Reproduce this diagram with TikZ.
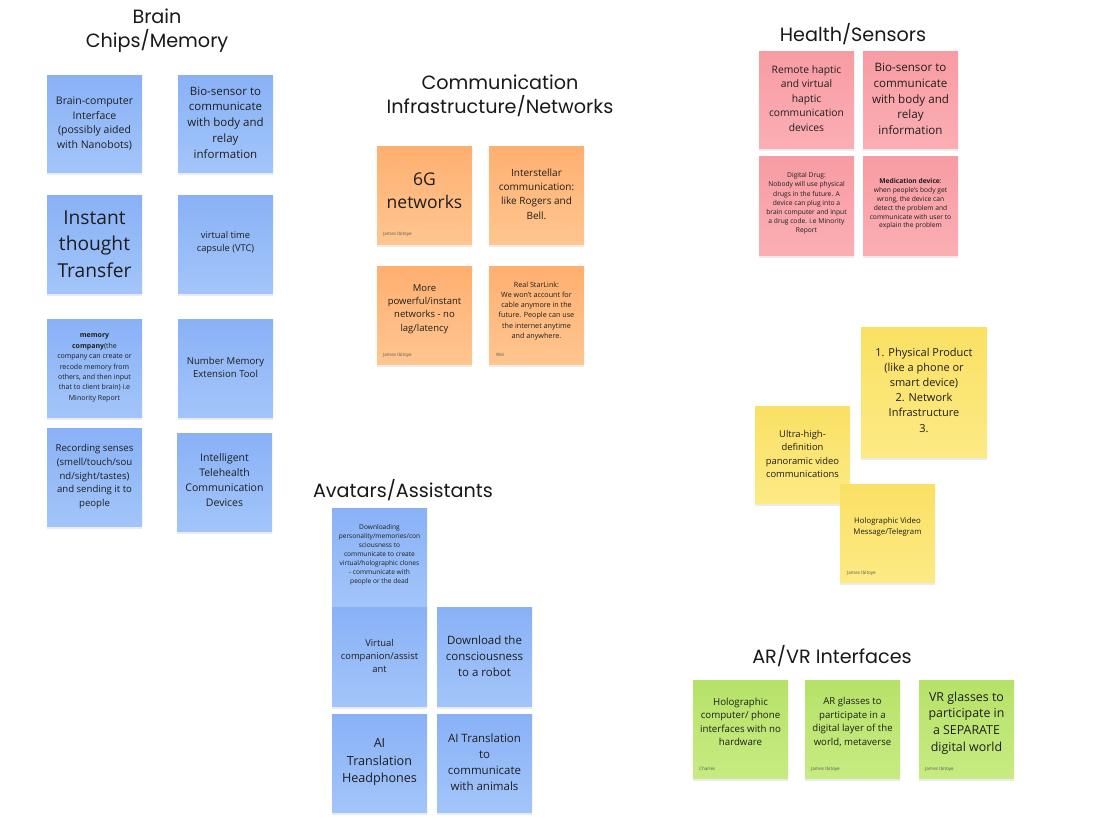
\documentclass[tikz,border=0pt]{standalone}
\usepackage{fontspec}
\setmainfont{Open Sans}
\newfontfamily\headfont{Poppins}
\usetikzlibrary{shadows}
\definecolor{bluetop}{HTML}{89B1F6}
\definecolor{bluebot}{HTML}{A2C5F9}
\definecolor{orgtop}{HTML}{FFAF70}
\definecolor{orgbot}{HTML}{FFC690}
\definecolor{pinktop}{HTML}{F89CA3}
\definecolor{pinkbot}{HTML}{FAAEB3}
\definecolor{yeltop}{HTML}{FAE064}
\definecolor{yelbot}{HTML}{FCEA84}
\definecolor{grntop}{HTML}{B6E268}
\definecolor{grnbot}{HTML}{C7EB82}
\definecolor{inktext}{HTML}{1E1E1E}
\newcommand\fsz[2]{\fontsize{#1}{#2}\selectfont}
\tikzset{
  sticky/.style={rectangle, minimum width=95pt, minimum height=98pt, inner sep=0pt,
    drop shadow={shadow xshift=0pt, shadow yshift=-2.5pt, opacity=0.08, fill=black}},
  bluenote/.style={sticky, top color=bluetop, bottom color=bluebot},
  orgnote/.style={sticky, top color=orgtop, bottom color=orgbot},
  pinknote/.style={sticky, top color=pinktop, bottom color=pinkbot},
  yelnote/.style={sticky, top color=yeltop, bottom color=yelbot},
  grnnote/.style={sticky, top color=grntop, bottom color=grnbot},
  txt/.style={align=center, inner sep=0pt, text=inktext},
  author/.style={inner sep=0pt, text=black!65, font=\fsz{4.6}{5.5}, anchor=base west},
  heading/.style={inner sep=0pt, text=black!90, font=\headfont\fsz{19.2}{24}, anchor=base}
}
\begin{document}
\begin{tikzpicture}[x=1pt,y=-1pt]
\useasboundingbox[fill=white] (0,0) rectangle (1109,817);

% ---------- Brain Chips/Memory ----------
\node[heading] (hb1) at (157,23) {Brain};
\node[heading] (hb2) at (157,47) {Chips/Memory};
\node[bluenote, minimum height=97pt] (s1) at (94.5,123.5) {};
\node[txt, font=\fsz{10.5}{14.6}] (s1t) at (s1) {Brain-computer\\Interface\\(possibly aided\\with Nanobots)};
\node[bluenote, minimum height=97pt] (s2) at (225.5,123.5) {};
\node[txt, font=\fsz{11.5}{15.8}] (s2t) at ([yshift=1pt]s2.center) {Bio-sensor to\\communicate\\with body and\\relay\\information};
\node[bluenote] (s3) at (94.5,244) {};
\node[txt, font=\fsz{19.2}{26.6}] (s3t) at (s3) {Instant\\thought\\Transfer};
\node[bluenote] (s4) at (225.5,244) {};
\node[txt, font=\fsz{9.3}{13}] (s4t) at ([yshift=1pt]s4.center) {virtual time\\capsule (VTC)};
\node[bluenote] (s5) at (94.5,368) {};
\node[txt, font=\fsz{7}{10.4}] (s5t) at (s5) {\textbf{memory}\\\textbf{company}(the\\company can create or\\recode memory from\\others, and then input\\that to client brain) i.e\\Minority Report};
\node[bluenote] (s6) at (225.5,368) {};
\node[txt, font=\fsz{9.6}{12.8}] (s6t) at ([yshift=1pt]s6.center) {Number Memory\\Extension Tool};
\node[bluenote] (s7) at (94.5,477.5) {};
\node[txt, font=\fsz{9.6}{13.8}] (s7t) at ([yshift=1pt]s7.center) {Recording senses\\(smell/touch/sou\\nd/sight/tastes)\\and sending it to\\people};
\node[bluenote] (s8) at (224.5,482) {};
\node[txt, font=\fsz{10.5}{14.9}] (s8t) at ([yshift=2pt]s8.center) {Intelligent\\Telehealth\\Communication\\Devices};

% ---------- Communication ----------
\node[heading] (hc1) at (500,89) {Communication};
\node[heading] (hc2) at (500,113) {Infrastructure/Networks};
\node[orgnote] (c1) at (424.5,195) {};
\node[txt, font=\fsz{17.5}{23.4}] (c1t) at ([yshift=4pt]c1.center) {6G\\networks};
\node[author] (c1a) at (383,235) {James Ibitoye};
\node[orgnote] (c2) at (536.5,195) {};
\node[txt, font=\fsz{10}{14.2}] (c2t) at ([yshift=1pt]c2.center) {Interstellar\\communication:\\like Rogers and\\Bell.};
\node[orgnote] (c3) at (424.5,315) {};
\node[txt, font=\fsz{9.5}{13.4}] (c3t) at ([yshift=6pt]c3.center) {More\\powerful/instant\\networks - no\\lag/latency};
\node[author] (c3a) at (383,356) {James Ibitoye};
\node[orgnote] (c4) at (536.5,315) {};
\node[txt, font=\fsz{7.2}{10.2}] (c4t) at ([yshift=4pt]c4.center) {Real StarLink:\\We won't account for\\cable anymore in the\\future. People can use\\the internet anytime\\and anywhere.};
\node[author] (c4a) at (496,356) {Wei};

% ---------- Health/Sensors ----------
\node[heading] (hh) at (853,41) {Health/Sensors};
\node[pinknote, minimum height=97pt] (h1) at (806.5,99.5) {};
\node[txt, font=\fsz{10.3}{14.5}] (h1t) at ([yshift=1pt]h1.center) {Remote haptic\\and virtual\\haptic\\communication\\devices};
\node[pinknote, minimum height=97pt] (h2) at (910.5,99.5) {};
\node[txt, font=\fsz{11.6}{15.7}] (h2t) at ([yshift=0.5pt]h2.center) {Bio-sensor to\\communicate\\with body and\\relay\\information};
\node[pinknote, minimum height=99pt] (h3) at (806.5,205.5) {};
\node[txt, font=\fsz{6.7}{9.2}] (h3t) at ([yshift=2pt]h3.center) {Digital Drug:\\Nobody will use physical\\drugs in the future. A\\device can plug into a\\brain computer and input\\a drug code. i.e Minority\\Report};
\node[pinknote, minimum height=99pt] (h4) at (910.5,205.5) {};
\node[txt, font=\fsz{6.7}{8.9}] (h4t) at ([yshift=1.5pt]h4.center) {\textbf{Medication device}:\\when people's body get\\wrong, the device can\\detect the problem and\\communicate with user to\\explain the problem};

% ---------- Yellow cluster ----------
\node[yelnote, minimum width=126pt, minimum height=130pt] (y1) at (924,392) {};
\node[txt, font=\fsz{11}{15.2}] (y1t) at ([yshift=2pt]y1.center) {1. Physical Product\\(like a phone or\\smart device)\\2. Network\\Infrastructure\\3.};
\node[yelnote, minimum height=97pt] (y2) at (802.5,454.5) {};
\node[txt, font=\fsz{9.4}{13.6}] (y2t) at ([yshift=0.5pt]y2.center) {Ultra-high-\\definition\\panoramic video\\communications};
\node[yelnote] (y3) at (887.5,533) {};
\node[txt, font=\fsz{7.8}{10.7}] (y3t) at ([yshift=6pt]y3.center) {Holographic Video\\Message/Telegram};
\node[author] (y3a) at (847,574) {James Ibitoye};

% ---------- Avatars/Assistants ----------
\node[heading] (ha) at (403,497) {Avatars/Assistants};
\node[bluenote] (a1) at (379.5,557) {};
\node[txt, font=\fsz{6.6}{9}] (a1t) at ([yshift=2pt]a1.center) {Downloading\\personality/memories/con\\sciousness to\\communicate to create\\virtual/holographic clones\\- communicate with\\people or the dead};
\node[bluenote, minimum height=99pt] (a2) at (379.5,656.5) {};
\node[txt, font=\fsz{9.4}{13.3}] (a2t) at ([yshift=0.5pt]a2.center) {Virtual\\companion/assist\\ant};
\node[bluenote, minimum height=99pt] (a3) at (484.5,656.5) {};
\node[txt, font=\fsz{11.5}{15.8}] (a3t) at ([yshift=0.5pt]a3.center) {Download the\\consciousness\\to a robot};
\node[bluenote] (a4) at (379.5,763) {};
\node[txt, font=\fsz{12.6}{17.5}] (a4t) at ([yshift=1pt]a4.center) {AI\\Translation\\Headphones};
\node[bluenote] (a5) at (484.5,763) {};
\node[txt, font=\fsz{11.5}{16}] (a5t) at ([yshift=1pt]a5.center) {AI Translation\\to\\communicate\\with animals};

% ---------- AR/VR Interfaces ----------
\node[heading] (hv) at (832,663) {AR/VR Interfaces};
\node[grnnote] (v1) at (740.5,729) {};
\node[txt, font=\fsz{9.7}{13.4}] (v1t) at ([yshift=7pt]v1.center) {Holographic\\computer/ phone\\interfaces with no\\hardware};
\node[author] (v1a) at (699,770) {Charles};
\node[grnnote] (v2) at (852.5,729) {};
\node[txt, font=\fsz{9.6}{13.4}] (v2t) at ([yshift=7pt]v2.center) {AR glasses to\\participate in a\\digital layer of the\\world, metaverse};
\node[author] (v2a) at (811,770) {James Ibitoye};
\node[grnnote] (v3) at (966.5,729) {};
\node[txt, font=\fsz{12.4}{16.8}] (v3t) at ([yshift=6pt]v3.center) {VR glasses to\\participate in\\a SEPARATE\\digital world};
\node[author] (v3a) at (925,770) {James Ibitoye};
\end{tikzpicture}
\end{document}
